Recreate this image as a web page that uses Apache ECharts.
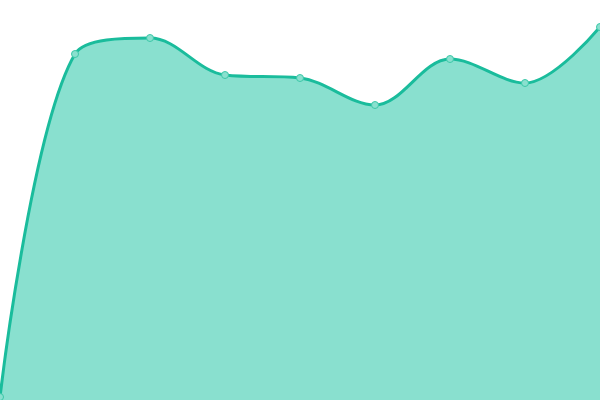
<!DOCTYPE html>
<html><head><meta charset="utf-8">
<script src="https://cdn.jsdelivr.net/npm/echarts@6/dist/echarts.min.js"></script>
<style>html,body{margin:0;padding:0;background:#fff}#c{width:600px;height:400px}</style>
</head><body><div id="c"></div>
<script>
const categories = ['A','B','C','D','E','F','G','H','I'];
const values = [3, 346, 362, 325, 322, 295, 341, 317, 373];
const chart = echarts.init(document.getElementById('c'));
chart.setOption({
  animation: false,
  grid: {left: 0, right: 0, top: 0, bottom: 0},
  xAxis: {type: 'category', data: categories, boundaryGap: false, show: false},
  yAxis: {type: 'value', min: 0, max: 400, show: false},
  series: [{
    type: 'line',
    data: values,
    smooth: 0.35,
    symbol: 'circle',
    symbolSize: 7,
    lineStyle: {color: '#1abc9c', width: 3},
    itemStyle: {color: '#8ae0cf', borderColor: '#3cc8a8', borderWidth: 1},
    areaStyle: {color: '#89e0cf', opacity: 1}
  }]
});
</script></body></html>
